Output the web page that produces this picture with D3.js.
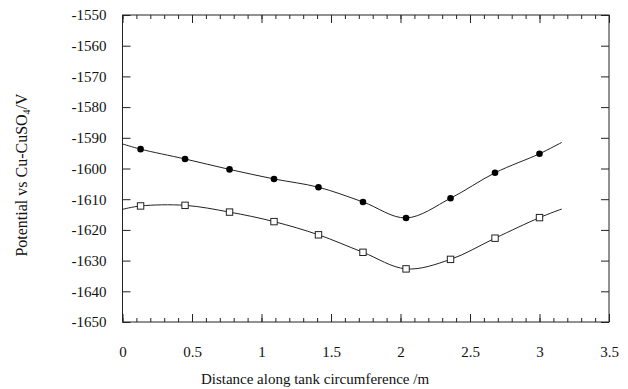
<!DOCTYPE html>
<html lang="en">
<head>
    <script src="https://d3js.org/d3.v7.min.js"></script>
    <style>
        body { margin: 0; background: #fff; }
        text { font-family: "Liberation Serif", "DejaVu Serif", serif; fill: #111; }
    </style>
</head>
<body>
    <svg width="628" height="389"></svg>
    <script>
        // measured points (distance in m, potential in mV vs Cu-CuSO4)
        const distance = [0.13, 0.45, 0.77, 1.09, 1.41, 1.73, 2.04, 2.36, 2.68, 3.0];
        const upper = [-1593.7, -1596.9, -1600.3, -1603.4, -1606.1, -1610.9, -1616.1, -1609.7, -1601.4, -1595.2];
        const lower = [-1612.2, -1612.0, -1614.2, -1617.3, -1621.6, -1627.3, -1632.7, -1629.6, -1622.7, -1616.0];
        // ends of the fitted curves, no markers there
        const curveEnds = [0, 3.16];
        const upperEnds = [-1592.0, -1591.5];
        const lowerEnds = [-1613.3, -1613.2];

        const xTicks = [0, 0.5, 1, 1.5, 2, 2.5, 3, 3.5];
        const yTicks = [-1550, -1560, -1570, -1580, -1590, -1600, -1610, -1620, -1630, -1640, -1650];

        const svg = d3.select("svg");
        const m = {left: 122.5, right: 609, top: 15, bottom: 322};

        const x = d3.scaleLinear().domain([0, 3.5]).range([m.left, m.right]);
        const y = d3.scaleLinear().domain([-1650, -1550]).range([m.bottom, m.top]);

        // frame
        svg.append("rect")
            .attr("x", m.left).attr("y", m.top)
            .attr("width", m.right - m.left).attr("height", m.bottom - m.top)
            .attr("fill", "none").attr("stroke", "#222").attr("stroke-width", 1);

        const minorX = d3.range(0, 3.501, 0.1).map(d => +d.toFixed(1));

        // bottom axis, ticks pointing inward
        const bottomAxis = svg.append("g").attr("transform", `translate(0,${m.bottom})`);
        bottomAxis.call(d3.axisBottom(x).tickValues(minorX).tickSize(-4).tickFormat(""))
            .call(g => g.select(".domain").remove());
        bottomAxis.append("g")
            .call(d3.axisBottom(x).tickValues(xTicks).tickSize(-8).tickPadding(24).tickFormat(d3.format("")))
            .call(g => g.select(".domain").remove())
            .call(g => g.selectAll("text").attr("font-size", 15).attr("fill", "#111")
                .attr("font-family", "Liberation Serif"));

        // top axis
        const topAxis = svg.append("g").attr("transform", `translate(0,${m.top})`);
        topAxis.call(d3.axisTop(x).tickValues(minorX).tickSize(-4).tickFormat(""))
            .call(g => g.select(".domain").remove());
        topAxis.append("g")
            .call(d3.axisTop(x).tickValues(xTicks).tickSize(-8).tickFormat(""))
            .call(g => g.select(".domain").remove());

        // left axis
        svg.append("g").attr("transform", `translate(${m.left},0)`)
            .call(d3.axisLeft(y).tickValues(yTicks).tickSize(-8).tickPadding(16))
            .call(g => g.select(".domain").remove())
            .call(g => g.selectAll("text").attr("font-size", 15).attr("fill", "#111")
                .attr("font-family", "Liberation Serif").text(d => d));

        // right axis
        svg.append("g").attr("transform", `translate(${m.right},0)`)
            .call(d3.axisRight(y).tickValues(yTicks).tickSize(-8).tickFormat(""))
            .call(g => g.select(".domain").remove());

        svg.selectAll(".tick line").attr("stroke", "#222");

        const line = d3.line()
            .x(d => x(d[0]))
            .y(d => y(d[1]))
            .curve(d3.curveCatmullRom.alpha(0.5));

        function curvePoints(vals, ends) {
            return [[curveEnds[0], ends[0]]]
                .concat(distance.map((d, i) => [d, vals[i]]))
                .concat([[curveEnds[1], ends[1]]]);
        }

        [[upper, upperEnds], [lower, lowerEnds]].forEach(([vals, ends]) => {
            svg.append("path")
                .attr("d", line(curvePoints(vals, ends)))
                .attr("fill", "none")
                .attr("stroke", "#222")
                .attr("stroke-width", 1);
        });

        svg.append("g").selectAll("circle")
            .data(distance)
            .join("circle")
            .attr("cx", d => x(d))
            .attr("cy", (d, i) => y(upper[i]))
            .attr("r", 3.3)
            .attr("fill", "#000");

        svg.append("g").selectAll("rect")
            .data(distance)
            .join("rect")
            .attr("x", d => x(d) - 3.2)
            .attr("y", (d, i) => y(lower[i]) - 3.2)
            .attr("width", 6.4)
            .attr("height", 6.4)
            .attr("fill", "#fff")
            .attr("stroke", "#222")
            .attr("stroke-width", 1);

        // axis titles
        svg.append("text")
            .attr("x", 315).attr("y", 384)
            .attr("text-anchor", "middle")
            .attr("font-size", 15)
            .text("Distance along tank circumference /m");

        const yTitle = svg.append("text")
            .attr("transform", "translate(27,175) rotate(-90)")
            .attr("text-anchor", "middle")
            .attr("font-size", 16);
        yTitle.append("tspan").text("Potential vs Cu-CuSO");
        yTitle.append("tspan").attr("font-size", 10).attr("dy", 3).text("4");
        yTitle.append("tspan").attr("dy", -3).text("/V");
    </script>
</body>
</html>
